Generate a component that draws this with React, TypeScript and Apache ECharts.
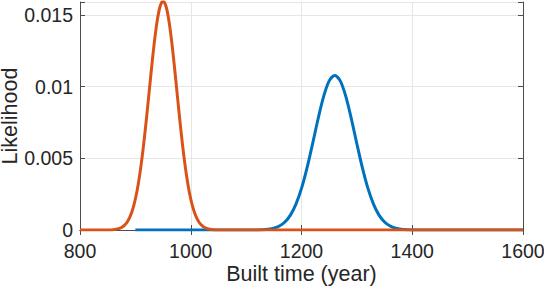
import React, { useEffect, useRef } from "react";
import * as echarts from "echarts";

const blueYears = [900, 1110, 1120, 1130, 1140, 1150, 1160, 1170, 1180, 1190, 1200, 1210, 1220, 1230, 1240, 1250, 1260, 1270, 1280, 1290, 1300, 1310, 1320, 1330, 1340, 1350, 1360, 1370, 1380, 1390, 1400, 1410, 1600];
const blueValues = [0, 0.000003, 0.0000084, 0.0000225, 0.000056, 0.00013, 0.00028, 0.00056, 0.00104, 0.0018, 0.0029, 0.00433, 0.00601, 0.00776, 0.00932, 0.0104, 0.01078, 0.0104, 0.00932, 0.00776, 0.00601, 0.00433, 0.0029, 0.0018, 0.00104, 0.00056, 0.00028, 0.00013, 0.000056, 0.0000225, 0.0000084, 0.000003, 0];

const orangeYears = [800, 850, 860, 870, 875, 880, 885, 890, 895, 900, 905, 910, 915, 920, 925, 930, 935, 940, 945, 950, 955, 960, 965, 970, 975, 980, 985, 990, 995, 1000, 1005, 1010, 1015, 1020, 1025, 1030, 1040, 1050, 1600];
const orangeValues = [0, 0.000005, 0.0000245, 0.000095, 0.000177, 0.000317, 0.000543, 0.000896, 0.00142, 0.00216, 0.00316, 0.00444, 0.00599, 0.00777, 0.00968, 0.01159, 0.01333, 0.01473, 0.01564, 0.01596, 0.01564, 0.01473, 0.01333, 0.01159, 0.00968, 0.00777, 0.00599, 0.00444, 0.00316, 0.00216, 0.00142, 0.000896, 0.000543, 0.000317, 0.000177, 0.000095, 0.0000245, 0.000005, 0];

const xTicks = [800, 1000, 1200, 1400, 1600];
const yTicks = [0, 0.005, 0.01, 0.015];

const TXT = "#262626";
const AX = "#4d4d4d";
const FONT = "Liberation Sans, Arial, sans-serif";
const TICK_FS = 19.5;
const LABEL_FS = 21.5;

export default function App() {
  const ref = useRef<HTMLDivElement>(null);
  useEffect(() => {
    const chart = echarts.init(ref.current!, null, { renderer: "svg" });
    const pair = (xs: number[], ys: number[]) => xs.map((x, i) => [x, ys[i]]);
    chart.setOption({
      animation: false,
      grid: { left: 80, right: 21, top: 2, bottom: 60, containLabel: false, outerBoundsMode: "none" },
      xAxis: [
        {
          type: "value",
          min: xTicks[0],
          max: xTicks[xTicks.length - 1],
          interval: 200,
          name: "Built time (year)",
          nameLocation: "middle",
          nameGap: 33,
          nameMoveOverlap: false,
          nameTextStyle: { color: TXT, fontSize: LABEL_FS, fontFamily: FONT },
          axisLine: { show: true, lineStyle: { color: AX, width: 1 } },
          axisTick: { show: true, inside: true, length: 5, lineStyle: { color: AX } },
          axisLabel: {
            color: TXT,
            fontSize: TICK_FS,
            fontFamily: FONT,
            margin: 11,
            formatter: (v: number) => (xTicks.includes(v) ? String(v) : ""),
          },
          splitLine: { show: true, lineStyle: { color: "#e6e6e6", width: 1 } },
        },
        {
          type: "value",
          position: "top",
          min: xTicks[0],
          max: xTicks[xTicks.length - 1],
          interval: 200,
          axisLine: { show: true, lineStyle: { color: AX, width: 1 } },
          axisTick: { show: true, inside: true, length: 5, lineStyle: { color: AX } },
          axisLabel: { show: false },
          splitLine: { show: false },
        },
      ],
      yAxis: [
        {
          type: "value",
          min: 0,
          max: 0.0159,
          interval: 0.005,
          name: "Likelihood",
          nameLocation: "middle",
          nameGap: 59,
          nameMoveOverlap: false,
          nameTextStyle: { color: TXT, fontSize: LABEL_FS, fontFamily: FONT },
          axisLine: { show: true, lineStyle: { color: AX, width: 1 } },
          axisTick: { show: true, inside: true, length: 5, lineStyle: { color: AX } },
          axisLabel: {
            color: TXT,
            fontSize: TICK_FS,
            fontFamily: FONT,
            margin: 7,
            formatter: (v: number) => (yTicks.includes(v) ? String(v) : ""),
          },
          splitLine: { show: true, lineStyle: { color: "#e6e6e6", width: 1 } },
        },
        {
          type: "value",
          position: "right",
          min: 0,
          max: 0.0159,
          interval: 0.005,
          axisLine: { show: true, lineStyle: { color: AX, width: 1 } },
          axisTick: { show: true, inside: true, length: 5, lineStyle: { color: AX } },
          axisLabel: { show: false },
          splitLine: { show: false },
        },
      ],
      series: [
        {
          type: "line",
          data: pair(blueYears, blueValues),
          smooth: 0.3,
          showSymbol: false,
          lineStyle: { color: "#0072BD", width: 3 },
          itemStyle: { color: "#0072BD" },
        },
        {
          type: "line",
          data: pair(orangeYears, orangeValues),
          smooth: 0.3,
          showSymbol: false,
          lineStyle: { color: "#D95319", width: 3 },
          itemStyle: { color: "#D95319" },
        },
      ],
    });
    return () => chart.dispose();
  }, []);
  return (
    <div
      ref={ref}
      style={{ position: "fixed", left: 0, top: 0, width: 544, height: 290, background: "#fff" }}
    />
  );
}
